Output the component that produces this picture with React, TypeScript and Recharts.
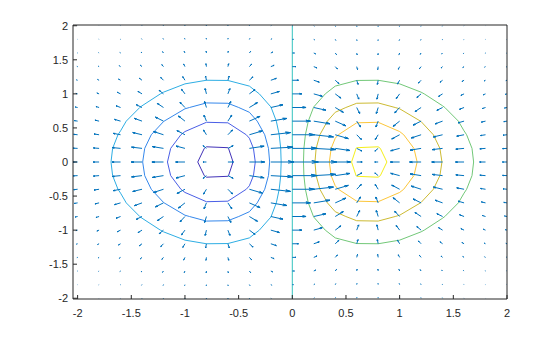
import { Line, LineChart, XAxis, YAxis } from "recharts";

// axis ticks
const axisTicks = [-2, -1.5, -1, -0.5, 0, 0.5, 1, 1.5, 2];

// quiver grid (columns = x, rows = y from top to bottom)
const gridX = [-2, -1.8, -1.6, -1.4, -1.2, -1, -0.8, -0.6, -0.4, -0.2, 0, 0.2, 0.4, 0.6, 0.8, 1, 1.2, 1.4, 1.6, 1.8, 2];
const gridY = [2, 1.8, 1.6, 1.4, 1.2, 1, 0.8, 0.6, 0.4, 0.2, 0, -0.2, -0.4, -0.6, -0.8, -1, -1.2, -1.4, -1.6, -1.8, -2];

// gradient components, x 1000
const DX = [
  [-3, -4, -6, -7, -8, -6, -2, 4, 10, 16, 18, 16, 10, 4, -2, -6, -8, -7, -6, -4, -3],
  [-7, -9, -12, -16, -17, -13, -5, 8, 22, 33, 38, 33, 22, 8, -5, -13, -17, -16, -12, -9, -7],
  [-13, -17, -24, -31, -33, -27, -10, 16, 44, 66, 74, 66, 44, 16, -10, -27, -33, -31, -24, -17, -13],
  [-24, -31, -45, -57, -60, -48, -18, 29, 80, 120, 135, 120, 80, 29, -18, -48, -60, -57, -45, -31, -24],
  [-40, -52, -75, -95, -101, -81, -30, 48, 134, 202, 228, 202, 134, 48, -30, -81, -101, -95, -75, -52, -40],
  [-62, -80, -117, -148, -157, -126, -47, 74, 208, 313, 353, 313, 208, 74, -47, -126, -157, -148, -117, -80, -62],
  [-89, -115, -167, -212, -225, -181, -67, 107, 298, 449, 507, 449, 298, 107, -67, -181, -225, -212, -167, -115, -89],
  [-118, -152, -221, -280, -298, -240, -88, 141, 395, 595, 670, 595, 395, 141, -88, -240, -298, -280, -221, -152, -118],
  [-144, -185, -270, -342, -364, -293, -108, 172, 482, 726, 819, 726, 482, 172, -108, -293, -364, -342, -270, -185, -144],
  [-163, -209, -304, -386, -410, -330, -122, 194, 544, 819, 923, 819, 544, 194, -122, -330, -410, -386, -304, -209, -163],
  [-169, -218, -317, -402, -427, -344, -127, 202, 566, 852, 961, 852, 566, 202, -127, -344, -427, -402, -317, -218, -169],
  [-163, -209, -304, -386, -410, -330, -122, 194, 544, 819, 923, 819, 544, 194, -122, -330, -410, -386, -304, -209, -163],
  [-144, -185, -270, -342, -364, -293, -108, 172, 482, 726, 819, 726, 482, 172, -108, -293, -364, -342, -270, -185, -144],
  [-118, -152, -221, -280, -298, -240, -88, 141, 395, 595, 670, 595, 395, 141, -88, -240, -298, -280, -221, -152, -118],
  [-89, -115, -167, -212, -225, -181, -67, 107, 298, 449, 507, 449, 298, 107, -67, -181, -225, -212, -167, -115, -89],
  [-62, -80, -117, -148, -157, -126, -47, 74, 208, 313, 353, 313, 208, 74, -47, -126, -157, -148, -117, -80, -62],
  [-40, -52, -75, -95, -101, -81, -30, 48, 134, 202, 228, 202, 134, 48, -30, -81, -101, -95, -75, -52, -40],
  [-24, -31, -45, -57, -60, -48, -18, 29, 80, 120, 135, 120, 80, 29, -18, -48, -60, -57, -45, -31, -24],
  [-13, -17, -24, -31, -33, -27, -10, 16, 44, 66, 74, 66, 44, 16, -10, -27, -33, -31, -24, -17, -13],
  [-7, -9, -12, -16, -17, -13, -5, 8, 22, 33, 38, 33, 22, 8, -5, -13, -17, -16, -12, -9, -7],
  [-3, -4, -6, -7, -8, -6, -2, 4, 10, 16, 18, 16, 10, 4, -2, -6, -8, -7, -6, -4, -3],
];

const DY = [
  [4, 7, 13, 21, 30, 38, 44, 44, 36, 20, 0, -20, -36, -44, -44, -38, -30, -21, -13, -7, -4],
  [5, 10, 18, 29, 42, 54, 62, 62, 50, 28, 0, -28, -50, -62, -62, -54, -42, -29, -18, -10, -5],
  [9, 18, 31, 50, 72, 93, 107, 106, 87, 49, 0, -49, -87, -106, -107, -93, -72, -50, -31, -18, -9],
  [15, 28, 49, 79, 113, 147, 168, 167, 136, 77, 0, -77, -136, -167, -168, -147, -113, -79, -49, -28, -15],
  [21, 40, 70, 112, 161, 209, 239, 238, 193, 109, 0, -109, -193, -238, -239, -209, -161, -112, -70, -40, -21],
  [27, 51, 90, 143, 206, 267, 306, 304, 247, 139, 0, -139, -247, -304, -306, -267, -206, -143, -90, -51, -27],
  [30, 58, 102, 163, 234, 303, 348, 345, 281, 158, 0, -158, -281, -345, -348, -303, -234, -163, -102, -58, -30],
  [30, 57, 100, 160, 231, 299, 343, 340, 277, 156, 0, -156, -277, -340, -343, -299, -231, -160, -100, -57, -30],
  [24, 46, 81, 130, 187, 242, 277, 275, 224, 126, 0, -126, -224, -275, -277, -242, -187, -130, -81, -46, -24],
  [14, 26, 46, 73, 105, 136, 156, 155, 126, 71, 0, -71, -126, -155, -156, -136, -105, -73, -46, -26, -14],
  [0, 0, 0, 0, 0, 0, 0, 0, 0, 0, 0, 0, 0, 0, 0, 0, 0, 0, 0, 0, 0],
  [-14, -26, -46, -73, -105, -136, -156, -155, -126, -71, 0, 71, 126, 155, 156, 136, 105, 73, 46, 26, 14],
  [-24, -46, -81, -130, -187, -242, -277, -275, -224, -126, 0, 126, 224, 275, 277, 242, 187, 130, 81, 46, 24],
  [-30, -57, -100, -160, -231, -299, -343, -340, -277, -156, 0, 156, 277, 340, 343, 299, 231, 160, 100, 57, 30],
  [-30, -58, -102, -163, -234, -303, -348, -345, -281, -158, 0, 158, 281, 345, 348, 303, 234, 163, 102, 58, 30],
  [-27, -51, -90, -143, -206, -267, -306, -304, -247, -139, 0, 139, 247, 304, 306, 267, 206, 143, 90, 51, 27],
  [-21, -40, -70, -112, -161, -209, -239, -238, -193, -109, 0, 109, 193, 238, 239, 209, 161, 112, 70, 40, 21],
  [-15, -28, -49, -79, -113, -147, -168, -167, -136, -77, 0, 77, 136, 167, 168, 147, 113, 79, 49, 28, 15],
  [-9, -18, -31, -50, -72, -93, -107, -106, -87, -49, 0, 49, 87, 106, 107, 93, 72, 50, 31, 18, 9],
  [-5, -10, -18, -29, -42, -54, -62, -62, -50, -28, 0, 28, 50, 62, 62, 54, 42, 29, 18, 10, 5],
  [-4, -7, -13, -21, -30, -38, -44, -44, -36, -20, 0, 20, 36, 44, 44, 38, 30, 21, 13, 7, 4],
];

// contour lines, one closed polygon per level
const contourM04 = [
  [-0.552, 0], [-0.594, 0.2], [-0.6, 0.21], [-0.8, 0.223], [-0.82, 0.2], [-0.881, 0],
  [-0.82, -0.2], [-0.8, -0.223], [-0.6, -0.21], [-0.594, -0.2], [-0.552, 0],
];
const contourM03 = [
  [-0.345, 0], [-0.362, 0.2], [-0.4, 0.349], [-0.429, 0.4], [-0.6, 0.575], [-0.8, 0.583],
  [-1, 0.447], [-1.038, 0.4], [-1.133, 0.2], [-1.163, 0], [-1.133, -0.2], [-1.038, -0.4],
  [-1, -0.447], [-0.8, -0.583], [-0.6, -0.575], [-0.429, -0.4], [-0.4, -0.349], [-0.362, -0.2],
  [-0.345, 0],
];
const contourM02 = [
  [-0.211, 0], [-0.222, 0.2], [-0.257, 0.4], [-0.327, 0.6], [-0.4, 0.73], [-0.499, 0.8],
  [-0.6, 0.862], [-0.8, 0.867], [-0.958, 0.8], [-1, 0.781], [-1.194, 0.6], [-1.2, 0.593],
  [-1.314, 0.4], [-1.375, 0.2], [-1.394, 0], [-1.375, -0.2], [-1.314, -0.4], [-1.2, -0.593],
  [-1.194, -0.6], [-1, -0.781], [-0.958, -0.8], [-0.8, -0.867], [-0.6, -0.862], [-0.499, -0.8],
  [-0.4, -0.73], [-0.327, -0.6], [-0.257, -0.4], [-0.222, -0.2], [-0.211, 0],
];
const contourM01 = [
  [-0.104, 0], [-0.108, 0.2], [-0.122, 0.4], [-0.149, 0.6], [-0.197, 0.8], [-0.2, 0.809],
  [-0.307, 1], [-0.4, 1.114], [-0.6, 1.197], [-0.8, 1.2], [-1, 1.147], [-1.2, 1.025],
  [-1.229, 1], [-1.4, 0.825], [-1.421, 0.8], [-1.547, 0.6], [-1.6, 0.457], [-1.624, 0.4],
  [-1.674, 0.2], [-1.689, 0], [-1.674, -0.2], [-1.624, -0.4], [-1.6, -0.457], [-1.547, -0.6],
  [-1.421, -0.8], [-1.4, -0.825], [-1.229, -1], [-1.2, -1.025], [-1, -1.147], [-0.8, -1.2],
  [-0.6, -1.197], [-0.4, -1.114], [-0.307, -1], [-0.2, -0.809], [-0.197, -0.8], [-0.149, -0.6],
  [-0.122, -0.4], [-0.108, -0.2], [-0.104, 0],
];
const contour00 = [[0, -2], [0, 2]];
const contourP01 = [
  [0.104, 0], [0.108, 0.2], [0.122, 0.4], [0.149, 0.6], [0.197, 0.8], [0.2, 0.809],
  [0.307, 1], [0.4, 1.114], [0.6, 1.197], [0.8, 1.2], [1, 1.147], [1.2, 1.025],
  [1.229, 1], [1.4, 0.825], [1.421, 0.8], [1.547, 0.6], [1.6, 0.457], [1.624, 0.4],
  [1.674, 0.2], [1.689, 0], [1.674, -0.2], [1.624, -0.4], [1.6, -0.457], [1.547, -0.6],
  [1.421, -0.8], [1.4, -0.825], [1.229, -1], [1.2, -1.025], [1, -1.147], [0.8, -1.2],
  [0.6, -1.197], [0.4, -1.114], [0.307, -1], [0.2, -0.809], [0.197, -0.8], [0.149, -0.6],
  [0.122, -0.4], [0.108, -0.2], [0.104, 0],
];
const contourP02 = [
  [0.211, 0], [0.222, 0.2], [0.257, 0.4], [0.327, 0.6], [0.4, 0.73], [0.499, 0.8],
  [0.6, 0.862], [0.8, 0.867], [0.958, 0.8], [1, 0.781], [1.194, 0.6], [1.2, 0.593],
  [1.314, 0.4], [1.375, 0.2], [1.394, 0], [1.375, -0.2], [1.314, -0.4], [1.2, -0.593],
  [1.194, -0.6], [1, -0.781], [0.958, -0.8], [0.8, -0.867], [0.6, -0.862], [0.499, -0.8],
  [0.4, -0.73], [0.327, -0.6], [0.257, -0.4], [0.222, -0.2], [0.211, 0],
];
const contourP03 = [
  [0.345, 0], [0.362, 0.2], [0.4, 0.349], [0.429, 0.4], [0.6, 0.575], [0.8, 0.583],
  [1, 0.447], [1.038, 0.4], [1.133, 0.2], [1.163, 0], [1.133, -0.2], [1.038, -0.4],
  [1, -0.447], [0.8, -0.583], [0.6, -0.575], [0.429, -0.4], [0.4, -0.349], [0.362, -0.2],
  [0.345, 0],
];
const contourP04 = [
  [0.552, 0], [0.594, 0.2], [0.6, 0.21], [0.8, 0.223], [0.82, 0.2], [0.881, 0],
  [0.82, -0.2], [0.8, -0.223], [0.6, -0.21], [0.594, -0.2], [0.552, 0],
];

const contours = [
  { level: -0.4, pts: contourM04, color: "#4232b8" },
  { level: -0.3, pts: contourM03, color: "#4a5ee6" },
  { level: -0.2, pts: contourM02, color: "#3588ec" },
  { level: -0.1, pts: contourM01, color: "#2eaee4" },
  { level: 0, pts: contour00, color: "#35c4be" },
  { level: 0.1, pts: contourP01, color: "#72c878" },
  { level: 0.2, pts: contourP02, color: "#cdbb33" },
  { level: 0.3, pts: contourP03, color: "#fcc63a" },
  { level: 0.4, pts: contourP04, color: "#f5ef1a" },
];

// arrow head size relative to arrow length (MATLAB style)
const HEAD = 0.25;
const WIDE = 0.33;

const buildQuiver = () => {
  let maxMag = 0;
  DX.forEach((row, i) =>
    row.forEach((u, j) => {
      maxMag = Math.max(maxMag, Math.hypot(u, DY[i][j]));
    })
  );
  // autoscale like quiver(): longest arrow = 0.9 * diagonal grid spacing
  const s = (0.9 * Math.hypot(4 / 21, 4 / 21)) / maxMag;
  const pts: { x: number; y: number | null }[] = [];
  gridY.forEach((y, i) =>
    gridX.forEach((x, j) => {
      const u = DX[i][j] * s;
      const v = DY[i][j] * s;
      const tx = x + u;
      const ty = y + v;
      pts.push(
        { x, y },
        { x: tx, y: ty },
        { x: tx - HEAD * (u + WIDE * v), y: ty - HEAD * (v - WIDE * u) },
        { x: tx, y: ty },
        { x: tx - HEAD * (u - WIDE * v), y: ty - HEAD * (v + WIDE * u) },
        { x: tx, y: null }
      );
    })
  );
  return pts;
};

const AXIS = "#262626";
const tickStyle = { fontSize: 11, fill: AXIS, fontFamily: "'Liberation Sans', Arial, sans-serif" };

export default function App() {
  const quiver = buildQuiver();
  return (
    <div style={{ position: "absolute", left: 0, top: 0, background: "#fff" }}>
      <LineChart width={560} height={337} margin={{ top: 24, right: 52, bottom: 8, left: 33 }}>
        <XAxis
          xAxisId="b"
          type="number"
          dataKey="x"
          domain={[-2.043, 2]}
          ticks={axisTicks}
          allowDataOverflow
          interval={0}
          height={30}
          tickSize={-4}
          tickMargin={14}
          stroke={AXIS}
          tick={tickStyle}
        />
        <XAxis
          xAxisId="t"
          orientation="top"
          type="number"
          dataKey="x"
          domain={[-2.043, 2]}
          ticks={axisTicks}
          allowDataOverflow
          interval={0}
          height={1}
          tickSize={-4}
          tick={false}
          stroke={AXIS}
        />
        <YAxis
          yAxisId="l"
          type="number"
          domain={[-2.011, 2.011]}
          ticks={axisTicks}
          allowDataOverflow
          interval={0}
          width={40}
          tickSize={-4}
          tickMargin={9}
          stroke={AXIS}
          tick={tickStyle}
        />
        <YAxis
          yAxisId="r"
          orientation="right"
          type="number"
          domain={[-2.011, 2.011]}
          ticks={axisTicks}
          allowDataOverflow
          interval={0}
          width={1}
          tickSize={-4}
          tick={false}
          stroke={AXIS}
        />
        {contours.map((c) => (
          <Line
            key={c.level}
            xAxisId="b"
            yAxisId="l"
            data={c.pts.map(([x, y]) => ({ x, y }))}
            dataKey="y"
            type="linear"
            stroke={c.color}
            strokeWidth={1}
            dot={false}
            activeDot={false}
            isAnimationActive={false}
          />
        ))}
        <Line
          xAxisId="b"
          yAxisId="l"
          data={quiver}
          dataKey="y"
          type="linear"
          stroke="#0072bd"
          strokeWidth={1}
          dot={false}
          activeDot={false}
          connectNulls={false}
          isAnimationActive={false}
        />
      </LineChart>
    </div>
  );
}
